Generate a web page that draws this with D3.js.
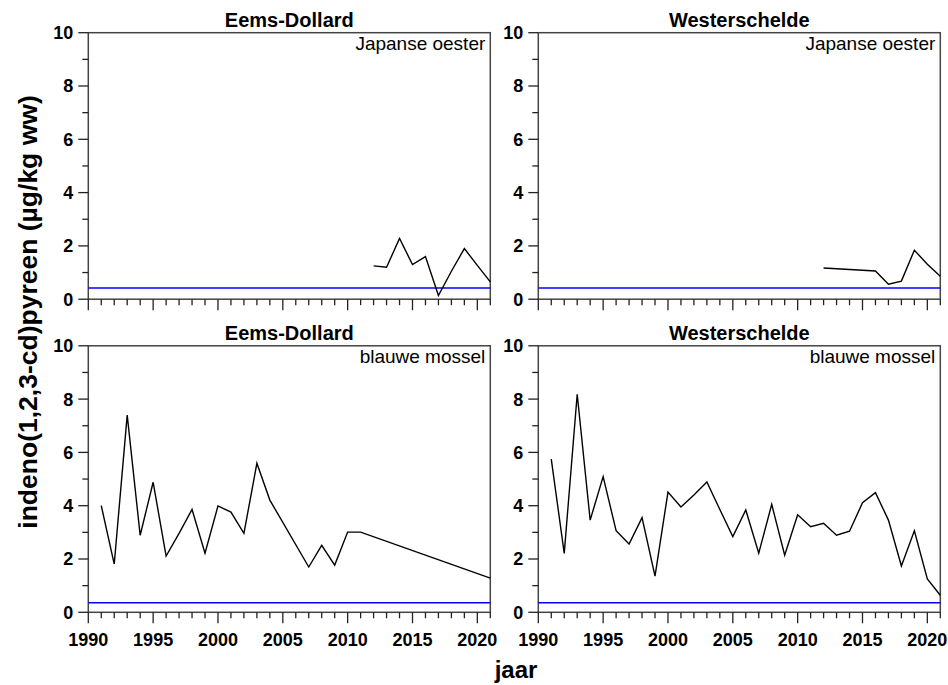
<!DOCTYPE html>
<html><head><meta charset="utf-8">
<script src="https://cdn.jsdelivr.net/npm/d3@7"></script>
<style>body{margin:0;background:#fff}svg{display:block;font-family:"Liberation Sans",Arial,sans-serif}</style>
</head><body><svg id="c" width="948" height="685"></svg>
<script>
const yearsEDoyster = [2012,2013,2014,2015,2016,2017,2018,2019,2020,2021];
const valsEDoyster  = [1.25,1.2,2.28,1.3,1.6,0.14,1.05,1.9,1.27,0.65];
const yearsWSoyster = [2012,2016,2017,2018,2019,2020,2021];
const valsWSoyster  = [1.17,1.06,0.56,0.68,1.84,1.31,0.86];
const yearsEDmussel = [1991,1992,1993,1994,1995,1996,1997,1998,1999,2000,2001,2002,2003,2004,2007,2008,2009,2010,2011,2021];
const valsEDmussel  = [4.0,1.81,7.4,2.89,4.88,2.11,2.96,3.86,2.22,3.99,3.76,2.96,5.59,4.21,1.7,2.51,1.77,3.01,3.01,1.28];
const yearsWSmussel = [1991,1992,1993,1994,1995,1996,1997,1998,1999,2000,2001,2002,2003,2004,2005,2006,2007,2008,2009,2010,2011,2012,2013,2014,2015,2016,2017,2018,2019,2020,2021];
const valsWSmussel  = [5.75,2.21,8.18,3.46,5.09,3.06,2.56,3.55,1.36,4.51,3.95,4.4,4.89,3.86,2.84,3.84,2.22,4.05,2.14,3.66,3.21,3.34,2.89,3.04,4.11,4.49,3.46,1.74,3.06,1.25,0.64];
const refTop = 0.42, refBottom = 0.36;
const xDomain = [1990,2021];
const yDomain = [0,10];
const xTickLabels = [1990,1995,2000,2005,2010,2015,2020];
const yTickLabels = [0,2,4,6,8,10];
const panelTitles = ["Eems-Dollard","Westerschelde","Eems-Dollard","Westerschelde"];
const speciesLabels = ["Japanse oester","Japanse oester","blauwe mossel","blauwe mossel"];

const panels = [
  {col:0,row:0,years:yearsEDoyster,vals:valsEDoyster,ref:refTop},
  {col:1,row:0,years:yearsWSoyster,vals:valsWSoyster,ref:refTop},
  {col:0,row:1,years:yearsEDmussel,vals:valsEDmussel,ref:refBottom},
  {col:1,row:1,years:yearsWSmussel,vals:valsWSmussel,ref:refBottom}
];
const svg = d3.select("#c");
const lefts=[88.3,538.3], W=402, tops=[32.7,345.8], H=266.5;
const frameCol="#444";
panels.forEach((p,i)=>{
  const x0=lefts[p.col], y0=tops[p.row];
  const x=d3.scaleLinear().domain(xDomain).range([x0,x0+W]);
  const y=d3.scaleLinear().domain(yDomain).range([y0+H,y0]);
  const g=svg.append("g");
  g.append("rect").attr("x",x0).attr("y",y0).attr("width",W).attr("height",H)
    .attr("fill","none").attr("stroke",frameCol).attr("stroke-width",1.5);
  d3.range(0,11).forEach(v=>{
    const major=v%2===0;
    g.append("line").attr("x1",x0).attr("x2",x0-(major?10:6)).attr("y1",y(v)).attr("y2",y(v))
      .attr("stroke","#222").attr("stroke-width",1.3);
  });
  yTickLabels.forEach(v=>{
    g.append("text").attr("x",x0-15).attr("y",y(v)).attr("dy","0.36em").attr("text-anchor","end")
      .attr("font-weight","bold").attr("font-size",18).text(v);
  });
  d3.range(xDomain[0],xDomain[1]+1).forEach(v=>{
    const major=v%5===0;
    g.append("line").attr("y1",y0+H).attr("y2",y0+H+(major?11:6)).attr("x1",x(v)).attr("x2",x(v))
      .attr("stroke","#222").attr("stroke-width",1.3);
  });
  if(p.row===1){
    xTickLabels.forEach(v=>{
      g.append("text").attr("x",x(v)).attr("y",y0+H+33.5).attr("text-anchor","middle")
        .attr("font-weight","bold").attr("font-size",18).text(v);
    });
  }
  g.append("line").attr("x1",x0).attr("x2",x0+W).attr("y1",y(p.ref)).attr("y2",y(p.ref))
    .attr("stroke","#0000ff").attr("stroke-width",1.5);
  const pts=p.years.map((yr,k)=>[yr,p.vals[k]]);
  g.append("path").datum(pts).attr("fill","none").attr("stroke","#000").attr("stroke-width",1.4)
    .attr("d",d3.line().x(d=>x(d[0])).y(d=>y(d[1])));
  g.append("text").attr("x",x0+W/2).attr("y",y0-5.5).attr("text-anchor","middle")
    .attr("font-weight","bold").attr("font-size",20).text(panelTitles[i]);
  g.append("text").attr("x",x0+W-5).attr("y",y0+17.5).attr("text-anchor","end")
    .attr("font-size",19).text(speciesLabels[i]);
});
svg.append("text").attr("transform","translate(37,312) rotate(-90)").attr("text-anchor","middle")
  .attr("font-weight","bold").attr("font-size",26.5).text("indeno(1,2,3-cd)pyreen (µg/kg ww)");
svg.append("text").attr("x",516).attr("y",678).attr("text-anchor","middle")
  .attr("font-weight","bold").attr("font-size",24).text("jaar");
</script></body></html>
